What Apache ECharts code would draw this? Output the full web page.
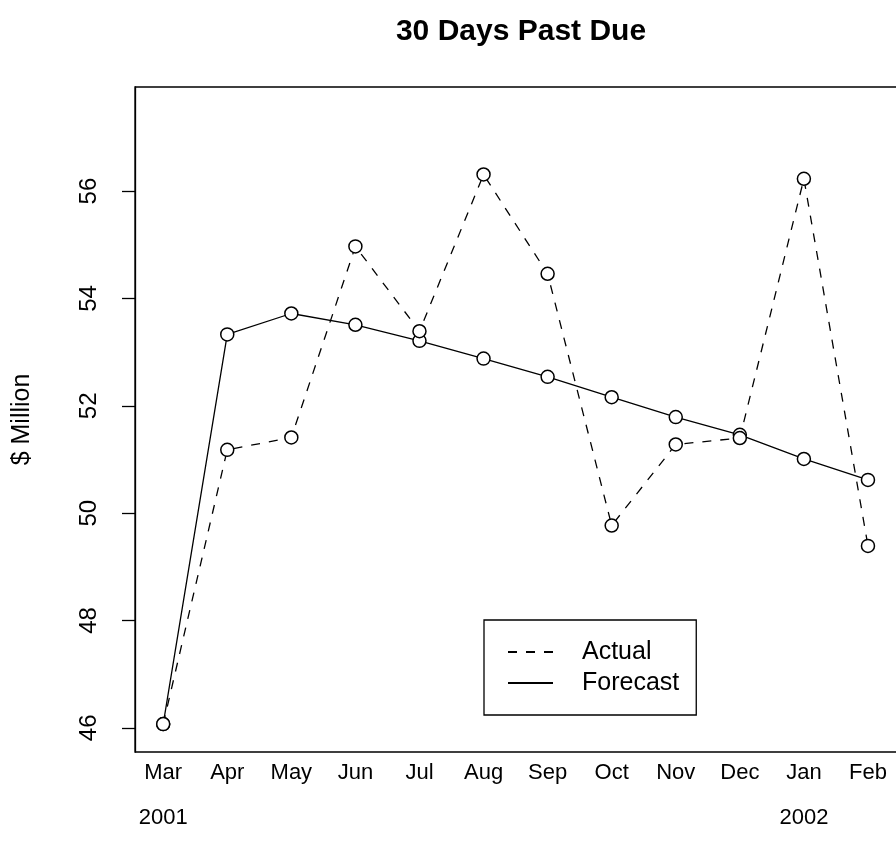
<!DOCTYPE html>
<html>
<head>
<meta charset="utf-8">
<title>30 Days Past Due</title>
<script src="https://cdn.jsdelivr.net/npm/echarts@6/dist/echarts.min.js"></script>
<style>
  html, body { margin: 0; padding: 0; background: #fff; }
  #chart { width: 896px; height: 863px; }
</style>
</head>
<body>
<div id="chart"></div>
<script>
// month positions 1..12, Mar 2001 .. Feb 2002
const months = ['Mar', 'Apr', 'May', 'Jun', 'Jul', 'Aug', 'Sep', 'Oct', 'Nov', 'Dec', 'Jan', 'Feb'];
const years = ['2001', '', '', '', '', '', '', '', '', '', '2002', ''];
const actual = [46.07, 51.18, 51.41, 54.97, 53.39, 56.31, 54.46, 49.77, 51.28, 51.40, 56.23, 49.39];
const forecast = [46.07, 53.33, 53.72, 53.51, 53.21, 52.88, 52.54, 52.16, 51.79, 51.46, 51.01, 50.62];
const yTicks = [46, 48, 50, 52, 54, 56];

const font = "'Liberation Sans', Arial, sans-serif";
const xPos = months.map((m, i) => i + 1);
const pairs = arr => arr.map((v, i) => [xPos[i], v]);

const chart = echarts.init(document.getElementById('chart'));

const option = {
  backgroundColor: '#fff',
  animation: false,
  title: {
    text: '30 Days Past Due',
    left: 516,
    top: 12,
    textAlign: 'center',
    textStyle: { fontFamily: font, fontSize: 30, fontWeight: 'bold', color: '#000' }
  },
  // right edge of the box falls just outside the canvas
  grid: {
    left: 135,
    top: 87,
    width: 765,
    bottom: 111,
    outerBoundsMode: 'none',
    containLabel: false,
    show: true,
    borderColor: '#000',
    borderWidth: 1.3
  },
  legend: {
    orient: 'vertical',
    left: 484,
    top: 620,
    data: ['Actual', 'Forecast'],
    selectedMode: false,
    itemWidth: 45,
    itemHeight: 14,
    itemGap: 3,
    padding: [18, 17, 18, 23],
    borderColor: '#000',
    borderWidth: 1.3,
    borderRadius: 0,
    itemStyle: { opacity: 0 },
    textStyle: { fontFamily: font, fontSize: 25, lineHeight: 28, color: '#000', padding: [0, 0, 0, 24] }
  },
  xAxis: {
    type: 'value',
    min: 0.56,
    max: 12.5,
    splitLine: { show: false },
    axisLine: { show: false },
    axisTick: { show: false },
    axisLabel: {
      customValues: xPos,
      formatter: v => {
        const i = Math.round(v) - 1;
        return years[i] ? months[i] + '\n' + years[i] : months[i];
      },
      fontFamily: font,
      fontSize: 22,
      color: '#000',
      lineHeight: 45,
      margin: -2,
      verticalAlign: 'top'
    }
  },
  yAxis: {
    type: 'value',
    min: 45.55,
    max: 57.94,
    name: '$ Million',
    nameLocation: 'middle',
    nameRotate: 90,
    nameGap: 100,
    nameTextStyle: { fontFamily: font, fontSize: 25, color: '#000' },
    splitLine: { show: false },
    axisLine: { show: true, lineStyle: { color: '#000', width: 1.3 } },
    axisTick: {
      show: true,
      length: 13,
      customValues: yTicks,
      lineStyle: { color: '#000', width: 1.3 }
    },
    axisLabel: {
      customValues: yTicks,
      rotate: 90,
      margin: 34,
      fontFamily: font,
      fontSize: 24,
      color: '#000'
    }
  },
  series: [
    {
      name: 'Actual',
      type: 'line',
      data: pairs(actual),
      symbol: 'circle',
      symbolSize: 13,
      itemStyle: { color: '#fff', borderColor: '#000', borderWidth: 1.5 },
      lineStyle: { color: '#000', width: 1.3, type: [9, 9] },
      z: 3
    },
    {
      name: 'Forecast',
      type: 'line',
      data: pairs(forecast),
      symbol: 'circle',
      symbolSize: 13,
      itemStyle: { color: '#fff', borderColor: '#000', borderWidth: 1.5 },
      lineStyle: { color: '#000', width: 1.3, type: 'solid' },
      z: 2
    }
  ]
};

chart.setOption(option);
window.addEventListener('resize', () => chart.resize());
</script>
</body>
</html>
